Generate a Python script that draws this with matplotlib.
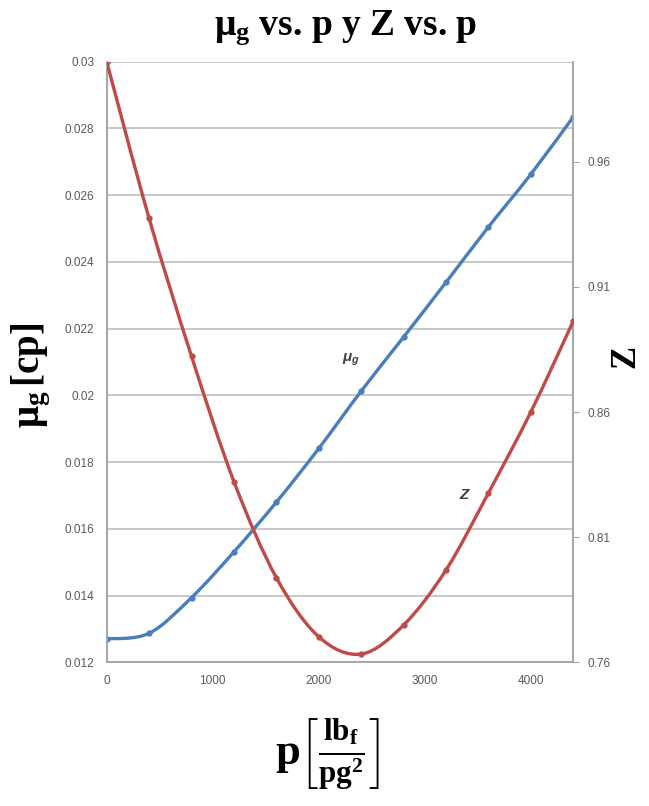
# -*- coding: utf-8 -*-
import matplotlib
matplotlib.use("Agg")
import matplotlib.pyplot as plt
from matplotlib.path import Path
from matplotlib.patches import PathPatch
import numpy as np

plt.rcParams.update({
    'font.family': ['Liberation Sans', 'DejaVu Sans'],
    'mathtext.fontset': 'custom',
    'mathtext.rm': 'Liberation Serif',
    'mathtext.bf': 'Liberation Serif:bold',
    'mathtext.it': 'Liberation Serif:italic',
    'mathtext.bfit': 'Liberation Sans:italic:bold',
})

# presion (psia)
p = [0, 400, 800, 1200, 1600, 2000, 2400, 2800, 3200, 3600, 4000, 4400]
# viscosidad del gas (cp)
mu_g = [0.01270, 0.01287, 0.01394, 0.01531, 0.01680, 0.01841,
        0.02013, 0.02175, 0.02339, 0.02505, 0.02663, 0.02835]
# factor de compresibilidad
z = [1.000, 0.9374, 0.8823, 0.8322, 0.7938, 0.7702,
     0.7633, 0.7749, 0.7969, 0.8277, 0.8601, 0.8964]

mu_ticks = [0.012, 0.014, 0.016, 0.018, 0.02, 0.022, 0.024, 0.026, 0.028, 0.03]
z_ticks = [0.76, 0.81, 0.86, 0.91, 0.96]
p_ticks = [0, 1000, 2000, 3000, 4000]

blue = "#4A7EBB"
red = "#BE4B48"
grey = "#595959"


def smooth_path(x, y):
    # curva suavizada tipo Excel (Bezier por Catmull-Rom)
    pts = np.column_stack([np.asarray(x, float), np.asarray(y, float)])
    verts = [pts[0]]
    codes = [Path.MOVETO]
    n = len(pts)
    for i in range(n - 1):
        p0 = pts[i - 1] if i > 0 else pts[i]
        p1 = pts[i]
        p2 = pts[i + 1]
        p3 = pts[i + 2] if i + 2 < n else pts[i + 1]
        verts += [p1 + (p2 - p0) / 6.0, p2 - (p3 - p1) / 6.0, p2]
        codes += [Path.CURVE4] * 3
    return Path(verts, codes)


fig = plt.figure(figsize=(6.49, 8.06), dpi=100)
ax = fig.add_axes([0.1644, 0.1783, 0.7190, 0.7451])
ax2 = ax.twinx()

ax.set_xlim(0, 4400)
ax.set_ylim(0.012, 0.03)
ax2.set_ylim(0.76, 1.0)

ax.add_patch(PathPatch(smooth_path(p, mu_g), fill=False, edgecolor=blue,
                       lw=2.4, zorder=3))
ax.plot(p, mu_g, 'o', color=blue, ms=3.5, zorder=4)
ax2.add_patch(PathPatch(smooth_path(p, z), fill=False, edgecolor=red,
                        lw=2.4, zorder=3))
ax2.plot(p, z, 'o', color=red, ms=3.5, zorder=4)

ax.set_yticks(mu_ticks)
ax.set_yticklabels(["%g" % t for t in mu_ticks])
ax.set_xticks(p_ticks)
ax2.set_yticks(z_ticks)
ax2.set_yticklabels(["%g" % t for t in z_ticks])

ax.grid(axis='y', color="#BFBFBF", lw=1.2)
ax.set_axisbelow(True)
for a in (ax, ax2):
    for s in a.spines.values():
        s.set_color("#A6A6A6")
        s.set_linewidth(1.2)
    a.spines['top'].set_visible(False)
ax.tick_params(axis='both', length=0, labelsize=8.5, labelcolor=grey, pad=9)
ax2.tick_params(axis='y', length=4, color="#A6A6A6", labelsize=8.5,
                labelcolor=grey, pad=6)

fig.text(0.532, 0.9566, r"$\mathbf{\mu_g}$ vs. p y Z vs. p", ha='center',
         va='baseline', fontsize=27, fontweight='bold', family='Liberation Serif')
fig.text(0.048, 0.535, r"$\mathbf{\mu_g\,[cp]}$", rotation=90, ha='center',
         va='center', fontsize=28)
fig.text(0.966, 0.555, r"$\mathbf{Z}$", rotation=90, ha='center', va='center',
         fontsize=25)
fig.text(0.505, 0.063, r"$\mathbf{p}\left[\frac{\mathbf{lb_f}}{\mathbf{pg^2}}\right]$",
         ha='center', va='center', fontsize=32)

ax.text(2300, 0.0210, r"$\mathbfit{\mu_g}$", fontsize=11, color="#404040",
        ha='center')
ax.text(3370, 0.0169, "Z", fontsize=11, color="#404040", ha='center',
        fontstyle='italic', fontweight='bold')

fig.savefig("out.png", dpi=100)
